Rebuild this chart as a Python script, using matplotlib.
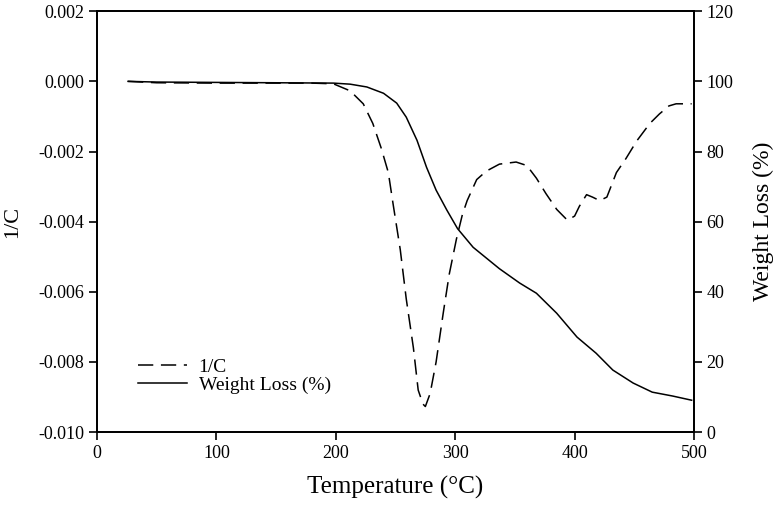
import matplotlib
matplotlib.use("Agg")
import matplotlib.pyplot as plt

plt.rcParams['font.family'] = ['Liberation Serif', 'DejaVu Serif']

# 1/C curve (left axis)
temp_c = [26, 50, 100, 150, 180, 198, 212, 223, 231, 238, 244, 248, 254, 259,
          265, 269, 273, 275, 279, 284, 290, 295, 301, 306, 310, 318, 326, 337,
          351, 360, 368, 376, 385, 394, 400, 404, 410, 415, 421, 427, 435, 443,
          452, 463, 471, 479, 485, 498]
inv_c = [0.0, -0.00004, -0.00005, -0.00005, -0.00005, -0.00007, -0.00027,
         -0.00064, -0.0012, -0.0019, -0.0026, -0.0035, -0.0048, -0.0062,
         -0.0076, -0.0088, -0.0092, -0.00927, -0.0089, -0.0080, -0.0066,
         -0.0055, -0.0045, -0.0038, -0.0034, -0.0028, -0.00256, -0.00236,
         -0.0023, -0.0024, -0.00276, -0.0032, -0.00365, -0.00396, -0.00384,
         -0.00356, -0.00323, -0.0033, -0.0034, -0.0033, -0.0026, -0.0022,
         -0.0017, -0.0012, -0.00093, -0.0007, -0.00064, -0.00064]

# weight loss curve (right axis)
temp_w = [26, 50, 100, 150, 198, 212, 226, 240, 251, 259, 268, 276, 284, 293,
          302, 315, 337, 354, 368, 385, 402, 418, 432, 449, 465, 482, 498]
weight = [100, 99.8, 99.7, 99.6, 99.5, 99.2, 98.4, 96.6, 93.8, 89.8, 83.2,
          75.5, 69, 63.3, 58, 52.7, 46.6, 42.5, 39.6, 33.9, 27.1, 22.5, 17.7,
          14, 11.4, 10.3, 9.1]

fig = plt.figure(figsize=(7.82, 5.09), dpi=100)
ax = fig.add_axes([0.124, 0.151, 0.7635, 0.827])
ax2 = ax.twinx()

l1, = ax.plot(temp_c, inv_c, color='black', lw=1.1, dashes=(10, 5), label='1/C')
l2, = ax2.plot(temp_w, weight, color='black', lw=1.1, label='Weight Loss (%)')

ax.set_xlim(0, 500)
ax.set_ylim(-0.010, 0.002)
ax2.set_ylim(0, 120)
ax.set_xticks([0, 100, 200, 300, 400, 500])
ax.set_yticks([0.002, 0.000, -0.002, -0.004, -0.006, -0.008, -0.010])
ax.set_yticklabels(['0.002', '0.000', '-0.002', '-0.004', '-0.006', '-0.008', '-0.010'])
ax2.set_yticks([0, 20, 40, 60, 80, 100, 120])

for a in (ax, ax2):
    for s in a.spines.values():
        s.set_linewidth(1.3)
    a.tick_params(direction='out', length=6, width=1.2, labelsize=13, pad=3)

ax.set_xlabel('Temperature (°C)', fontsize=18, labelpad=10)
ax.set_ylabel('1/C', fontsize=16, labelpad=12)
ax2.set_ylabel('Weight Loss (%)', fontsize=17, labelpad=14)

# legend sits inside the lower left corner
ax.legend([l1, l2], ['1/C', 'Weight Loss (%)'], loc='lower left',
          bbox_to_anchor=(0.04, 0.05), frameon=False, fontsize=14,
          handlelength=2.5, handletextpad=0.6, labelspacing=0.0)

fig.savefig('out.png', dpi=100)
